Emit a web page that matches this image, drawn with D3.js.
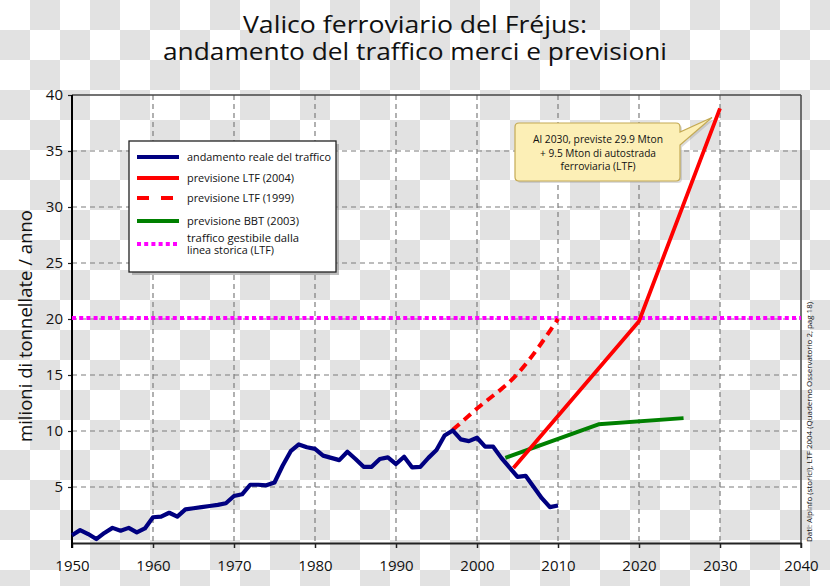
<!DOCTYPE html>
<html><head><meta charset="utf-8">
<script src="https://cdn.jsdelivr.net/npm/d3@7"></script>
<style>body{margin:0;background:#fff}svg{display:block}text{font-family:"Open Sans",sans-serif;fill:#111}</style>
</head><body><svg id="c" width="830" height="586"></svg>
<script>
// ---------- data ----------
const titleLines = ["Valico ferroviario del Fréjus:", "andamento del traffico merci e previsioni"];
const yLabel = "milioni di tonnellate / anno";
const sourceNote = "Dati: Alpinfo (storici), LTF 2004 (Quaderno Osservatorio 2, pag 18)";
const xTicks = [1950, 1960, 1970, 1980, 1990, 2000, 2010, 2020, 2030, 2040];
const yTicks = [5, 10, 15, 20, 25, 30, 35, 40];
const legendLabels = [["andamento reale del traffico"], ["previsione LTF (2004)"], ["previsione LTF (1999)"], ["previsione BBT (2003)"], ["traffico gestibile dalla", "linea storica (LTF)"]];
const noteLines = ["Al 2030, previste 29.9 Mton", "+ 9.5 Mton di autostrada", "ferroviaria (LTF)"];

const realYears = [1950,1951,1952,1953,1954,1955,1956,1957,1958,1959,1960,1961,1962,1963,1964,1965,1966,1967,1968,1969,1970,1971,1972,1973,1974,1975,1976,1977,1978,1979,1980,1981,1982,1983,1984,1985,1986,1987,1988,1989,1990,1991,1992,1993,1994,1995,1996,1997,1998,1999,2000,2001,2002,2003,2004,2005,2006,2007,2008,2009,2010];
const realValues = [0.7,1.15,0.8,0.35,0.9,1.35,1.1,1.35,0.95,1.3,2.3,2.35,2.7,2.35,3.0,3.1,3.2,3.3,3.4,3.55,4.2,4.35,5.2,5.2,5.15,5.4,6.9,8.2,8.8,8.55,8.4,7.8,7.6,7.4,8.15,7.5,6.8,6.8,7.5,7.65,7.05,7.7,6.75,6.8,7.6,8.3,9.6,10.05,9.25,9.1,9.4,8.6,8.6,7.6,6.75,5.9,6.0,5.0,4.0,3.2,3.35];
const ltf2004Years = [2004.5, 2020, 2030];
const ltf2004Values = [6.7, 19.8, 38.8];
const ltf1999Years = [1997, 2000, 2005, 2010];
const ltf1999Values = [10.1, 12.0, 15.1, 20.0];
const bbtYears = [2003.5, 2015, 2025.5];
const bbtValues = [7.6, 10.6, 11.15];
const capacityYears = [1950, 2040];
const capacityValues = [20.1, 20.1];

// ---------- setup ----------
const svg = d3.select("#c");
const W = 830, H = 586;
const L = 72, R = 801, T = 95, B = 543;
const x = d3.scaleLinear().domain([1950, 2040]).range([L, R]);
const y = d3.scaleLinear().domain([0, 40]).range([B, T]);

// checkerboard (transparency) background
const defs = svg.append("defs");
const pat = defs.append("pattern").attr("id", "chk").attr("width", 60).attr("height", 60).attr("patternUnits", "userSpaceOnUse");
pat.append("rect").attr("width", 60).attr("height", 60).attr("fill", "#ffffff");
pat.append("rect").attr("x", 30).attr("y", 0).attr("width", 30).attr("height", 30).attr("fill", "#e2e2e2");
pat.append("rect").attr("x", 0).attr("y", 30).attr("width", 30).attr("height", 30).attr("fill", "#e2e2e2");
svg.append("rect").attr("width", W).attr("height", H).attr("fill", "url(#chk)");

function fit(sel, w) { sel.attr("textLength", w).attr("lengthAdjust", "spacingAndGlyphs"); return sel; }

// title (one text element, two lines)
const titleW = [344, 504];
const tt = svg.append("text").attr("text-anchor", "middle").attr("font-size", 24);
titleLines.forEach((t, i) => {
  fit(tt.append("tspan").attr("x", 415).attr("y", 33 + i * 27).text(t), titleW[i]);
});

// grid
const grid = svg.append("g").attr("stroke", "#7d7d7d").attr("stroke-width", 1.2).attr("stroke-dasharray", "5,4");
grid.selectAll("line.v").data(xTicks.filter(d => d > 1950 && d < 2040)).join("line")
  .attr("x1", d => x(d)).attr("x2", d => x(d)).attr("y1", T).attr("y2", B);
grid.selectAll("line.h").data(yTicks.filter(d => d < 40)).join("line")
  .attr("x1", L).attr("x2", R).attr("y1", d => y(d)).attr("y2", d => y(d));

// frame top / right
svg.append("line").attr("x1", L).attr("x2", R).attr("y1", T).attr("y2", T).attr("stroke", "#444").attr("stroke-width", 1.5);
svg.append("line").attr("x1", R).attr("x2", R).attr("y1", T).attr("y2", B + 5).attr("stroke", "#444").attr("stroke-width", 1.5);

// axes
const xAxis = svg.append("g").attr("transform", `translate(0,${B})`)
  .call(d3.axisBottom(x).tickValues(xTicks).tickFormat(d3.format("d")).tickSize(5).tickSizeOuter(0).tickPadding(12));
xAxis.select(".domain").attr("stroke", "#222").attr("stroke-width", 2);
xAxis.selectAll(".tick line").attr("stroke", "#222").attr("stroke-width", 1.5);
xAxis.selectAll("text").attr("font-size", 15).attr("font-family", "Open Sans").attr("fill", "#111");

const yAxis = svg.append("g").attr("transform", `translate(${L},0)`)
  .call(d3.axisLeft(y).tickValues(yTicks).tickSize(4).tickSizeOuter(0).tickPadding(5));
yAxis.select(".domain").remove();
yAxis.selectAll(".tick line").attr("stroke", "#222").attr("stroke-width", 1.2);
yAxis.selectAll("text").attr("font-size", 15).attr("font-family", "Open Sans").attr("fill", "#111");
svg.append("line").attr("x1", L).attr("x2", L).attr("y1", T).attr("y2", B + 5).attr("stroke", "#000").attr("stroke-width", 2);

// y label
fit(svg.append("text").attr("transform", `translate(32,326) rotate(-90)`).attr("text-anchor", "middle")
  .attr("font-size", 19).text(yLabel), 232);

// source note
fit(svg.append("text").attr("transform", `translate(812,422) rotate(-90)`).attr("text-anchor", "middle")
  .attr("font-size", 8).attr("fill", "#333").text(sourceNote), 240);

// series
const line = d3.line().x(d => x(d[0])).y(d => y(d[1]));
const zip = (a, b) => a.map((v, i) => [v, b[i]]);
svg.append("path").datum(zip(capacityYears, capacityValues)).attr("d", line)
  .attr("fill", "none").attr("stroke", "#ff00ff").attr("stroke-width", 4).attr("stroke-dasharray", "4,3.2");
svg.append("path").datum(zip(ltf1999Years, ltf1999Values)).attr("d", d3.line().curve(d3.curveMonotoneX).x(d => x(d[0])).y(d => y(d[1])))
  .attr("fill", "none").attr("stroke", "#ff0000").attr("stroke-width", 4).attr("stroke-dasharray", "9,6");
svg.append("path").datum(zip(bbtYears, bbtValues)).attr("d", line)
  .attr("fill", "none").attr("stroke", "#008000").attr("stroke-width", 4).attr("stroke-linejoin", "round");
svg.append("path").datum(zip(realYears, realValues)).attr("d", line)
  .attr("fill", "none").attr("stroke", "#000080").attr("stroke-width", 4.2).attr("stroke-linejoin", "round");
svg.append("path").datum(zip(ltf2004Years, ltf2004Values)).attr("d", line)
  .attr("fill", "none").attr("stroke", "#ff0000").attr("stroke-width", 3.8).attr("stroke-linejoin", "round");

// legend
const lg = svg.append("g");
lg.append("rect").attr("x", 132).attr("y", 144).attr("width", 207).attr("height", 131).attr("fill", "#888").attr("opacity", 0.55);
lg.append("rect").attr("x", 129).attr("y", 141).attr("width", 207).attr("height", 131).attr("fill", "#fff").attr("stroke", "#222").attr("stroke-width", 1.3);
const legendStyles = [
  {c: "#000080", w: 4.2, da: null},
  {c: "#ff0000", w: 3.8, da: null},
  {c: "#ff0000", w: 3.8, da: "12,12"},
  {c: "#008000", w: 4, da: null},
  {c: "#ff00ff", w: 4, da: "4,3.2"}
];
const legendRowY = [157, 178, 198, 221, 244];
const legendW = [[144], [107], [107], [112], [112, 87]];
legendLabels.forEach((lab, i) => {
  const s = legendStyles[i], yy = legendRowY[i];
  lg.append("line").attr("x1", 137).attr("x2", 179).attr("y1", yy).attr("y2", yy)
    .attr("stroke", s.c).attr("stroke-width", s.w).attr("stroke-dasharray", s.da);
  const txt = lg.append("text").attr("font-size", 11).attr("fill", "#222");
  lab.forEach((t, j) => {
    const by = lab.length === 1 ? yy + 4 : yy - 2 + j * 12;
    fit(txt.append("tspan").attr("x", 187).attr("y", by).text(t), legendW[i][j]);
  });
});

// callout
const bx0 = 515, bx1 = 680, by0 = 123, by1 = 181, r = 4;
const tip = [x(2030) - 8, y(38.8) + 9];
const p = d3.path();
p.moveTo(bx0 + r, by0); p.lineTo(bx1 - r, by0); p.quadraticCurveTo(bx1, by0, bx1, by0 + r);
p.lineTo(bx1, 132); p.lineTo(tip[0], tip[1]); p.lineTo(bx1, 145);
p.lineTo(bx1, by1 - r); p.quadraticCurveTo(bx1, by1, bx1 - r, by1);
p.lineTo(bx0 + r, by1); p.quadraticCurveTo(bx0, by1, bx0, by1 - r);
p.lineTo(bx0, by0 + r); p.quadraticCurveTo(bx0, by0, bx0 + r, by0); p.closePath();
svg.append("path").attr("d", p.toString()).attr("transform", "translate(2,2)").attr("fill", "#999").attr("opacity", 0.35);
svg.append("path").attr("d", p.toString()).attr("fill", "#fcefb6").attr("stroke", "#c4aa55").attr("stroke-width", 1.2);
const noteW = [130, 116, 75];
const nt = svg.append("text").attr("text-anchor", "middle").attr("font-size", 10.5).attr("fill", "#222");
noteLines.forEach((t, i) => {
  fit(nt.append("tspan").attr("x", 598).attr("y", 143 + i * 13.5).text(t), noteW[i]);
});
</script></body></html>
